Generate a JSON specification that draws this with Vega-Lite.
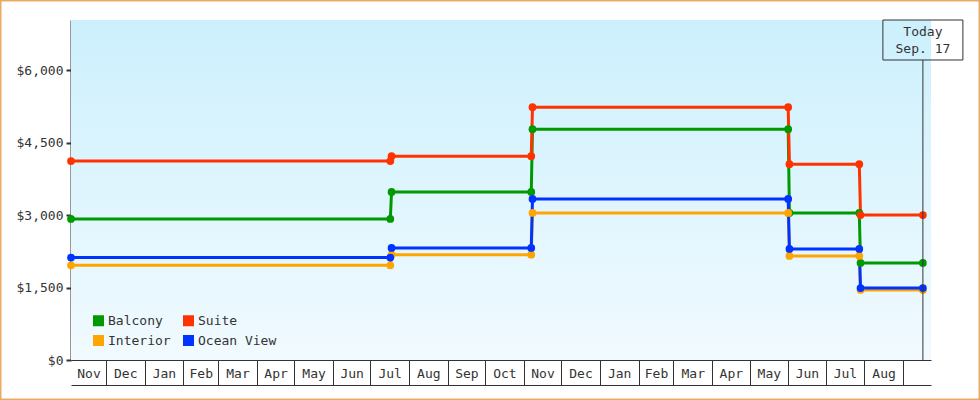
{
  "$schema": "https://vega.github.io/schema/vega-lite/v6.json",
  "width": 980,
  "height": 400,
  "autosize": {"type": "none"},
  "padding": 0,
  "background": "#ffffff",
  "config": {
    "view": {"stroke": "#e9aa66", "strokeWidth": 3},
    "axis": {"labelFont": "DejaVu Sans Mono", "labelFontSize": 13, "labelColor": "#333333", "grid": false, "domainColor": "#333333", "tickColor": "#333333", "title": null}
  },
  "datasets": {
    "prices": [
      {"room": "Balcony", "date": "2016-11-03", "price": 2920},
      {"room": "Balcony", "date": "2017-07-17", "price": 2920},
      {"room": "Balcony", "date": "2017-07-18", "price": 3480},
      {"room": "Balcony", "date": "2017-11-07", "price": 3480},
      {"room": "Balcony", "date": "2017-11-08", "price": 4780},
      {"room": "Balcony", "date": "2018-06-01", "price": 4780},
      {"room": "Balcony", "date": "2018-06-02", "price": 3045},
      {"room": "Balcony", "date": "2018-07-28", "price": 3045},
      {"room": "Balcony", "date": "2018-07-29", "price": 2010},
      {"room": "Balcony", "date": "2018-09-17", "price": 2010},
      {"room": "Interior", "date": "2016-11-03", "price": 1960},
      {"room": "Interior", "date": "2017-07-17", "price": 1960},
      {"room": "Interior", "date": "2017-07-18", "price": 2180},
      {"room": "Interior", "date": "2017-11-07", "price": 2180},
      {"room": "Interior", "date": "2017-11-08", "price": 3045},
      {"room": "Interior", "date": "2018-06-01", "price": 3045},
      {"room": "Interior", "date": "2018-06-02", "price": 2155},
      {"room": "Interior", "date": "2018-07-28", "price": 2155},
      {"room": "Interior", "date": "2018-07-29", "price": 1450},
      {"room": "Interior", "date": "2018-09-17", "price": 1450},
      {"room": "Ocean View", "date": "2016-11-03", "price": 2120},
      {"room": "Ocean View", "date": "2017-07-17", "price": 2120},
      {"room": "Ocean View", "date": "2017-07-18", "price": 2320},
      {"room": "Ocean View", "date": "2017-11-07", "price": 2320},
      {"room": "Ocean View", "date": "2017-11-08", "price": 3335},
      {"room": "Ocean View", "date": "2018-06-01", "price": 3335},
      {"room": "Ocean View", "date": "2018-06-02", "price": 2300},
      {"room": "Ocean View", "date": "2018-07-28", "price": 2300},
      {"room": "Ocean View", "date": "2018-07-29", "price": 1490},
      {"room": "Ocean View", "date": "2018-09-17", "price": 1490},
      {"room": "Suite", "date": "2016-11-03", "price": 4120},
      {"room": "Suite", "date": "2017-07-17", "price": 4120},
      {"room": "Suite", "date": "2017-07-18", "price": 4220},
      {"room": "Suite", "date": "2017-11-07", "price": 4220},
      {"room": "Suite", "date": "2017-11-08", "price": 5235},
      {"room": "Suite", "date": "2018-06-01", "price": 5235},
      {"room": "Suite", "date": "2018-06-02", "price": 4055},
      {"room": "Suite", "date": "2018-07-28", "price": 4055},
      {"room": "Suite", "date": "2018-07-29", "price": 3000},
      {"room": "Suite", "date": "2018-09-17", "price": 3000}
    ],
    "today": [{"date": "2018-09-17", "label": "Today\nSep. 17"}]
  },
  "resolve": {"axis": {"x": "independent", "y": "independent"}, "legend": {"color": "independent"}},
  "layer": [
    {
      "data": {"values": [{}]},
      "mark": {
        "type": "rect",
        "fill": {"gradient": "linear", "x1": 0, "y1": 0, "x2": 0, "y2": 1,
          "stops": [{"offset": 0, "color": "#ccf0fd"}, {"offset": 1, "color": "#f1faff"}]}
      },
      "encoding": {
        "x": {
          "datum": {"year": 2016, "month": 11, "date": 3, "utc": true},
          "type": "temporal",
          "scale": {"type": "utc", "padding": 0, "domain": [{"year": 2016, "month": 11, "date": 3, "utc": true}, {"year": 2018, "month": 9, "date": 23, "hours": 12, "utc": true}], "range": [71, 931]},
          "axis": {
            "orient": "bottom", "offset": -40, "labels": false, "tickSize": 25, "tickWidth": 1, "domainWidth": 1,
            "values": [
              {"year": 2016, "month": 12, "date": 1, "utc": true},
              {"year": 2017, "month": 1, "date": 1, "utc": true},
              {"year": 2017, "month": 2, "date": 1, "utc": true},
              {"year": 2017, "month": 3, "date": 1, "utc": true},
              {"year": 2017, "month": 4, "date": 1, "utc": true},
              {"year": 2017, "month": 5, "date": 1, "utc": true},
              {"year": 2017, "month": 6, "date": 1, "utc": true},
              {"year": 2017, "month": 7, "date": 1, "utc": true},
              {"year": 2017, "month": 8, "date": 1, "utc": true},
              {"year": 2017, "month": 9, "date": 1, "utc": true},
              {"year": 2017, "month": 10, "date": 1, "utc": true},
              {"year": 2017, "month": 11, "date": 1, "utc": true},
              {"year": 2017, "month": 12, "date": 1, "utc": true},
              {"year": 2018, "month": 1, "date": 1, "utc": true},
              {"year": 2018, "month": 2, "date": 1, "utc": true},
              {"year": 2018, "month": 3, "date": 1, "utc": true},
              {"year": 2018, "month": 4, "date": 1, "utc": true},
              {"year": 2018, "month": 5, "date": 1, "utc": true},
              {"year": 2018, "month": 6, "date": 1, "utc": true},
              {"year": 2018, "month": 7, "date": 1, "utc": true},
              {"year": 2018, "month": 8, "date": 1, "utc": true},
              {"year": 2018, "month": 9, "date": 1, "utc": true}
            ]
          }
        },
        "x2": {"datum": {"year": 2018, "month": 9, "date": 23, "hours": 12, "utc": true}},
        "y": {
          "datum": 0,
          "type": "quantitative",
          "scale": {"domain": [0, 7040], "range": [360, 20], "nice": false, "padding": 0},
          "axis": {
            "orient": "left", "offset": -71, "values": [0, 1500, 3000, 4500, 6000], "format": "$,.0f",
            "tickSize": 5, "tickWidth": 2, "domainWidth": 2, "labelPadding": 3
          }
        },
        "y2": {"datum": 7040}
      }
    },
    {
      "data": {"name": "prices"},
      "mark": {"type": "line", "strokeWidth": 3},
      "encoding": {
        "x": {"field": "date", "type": "temporal", "axis": null},
        "y": {"field": "price", "type": "quantitative", "axis": null},
        "color": {
          "field": "room", "type": "nominal",
          "scale": {"domain": ["Balcony", "Suite", "Interior", "Ocean View"], "range": ["#009900", "#ff3300", "#ffa500", "#0033ff"]},
          "legend": null
        }
      }
    },
    {
      "data": {"name": "prices"},
      "mark": {"type": "circle", "size": 60, "opacity": 1},
      "encoding": {
        "x": {"field": "date", "type": "temporal", "axis": null},
        "y": {"field": "price", "type": "quantitative", "axis": null},
        "color": {
          "field": "room", "type": "nominal",
          "legend": {
            "orient": "none", "legendX": 92, "legendY": 314, "columns": 2, "direction": "horizontal", "title": null,
            "symbolType": "square", "symbolSize": 121, "symbolStrokeWidth": 0, "symbolOpacity": 1,
            "labelFont": "DejaVu Sans Mono", "labelFontSize": 13, "labelColor": "#333333",
            "labelOffset": 3, "rowPadding": 6, "columnPadding": 11, "padding": 0
          }
        }
      }
    },
    {
      "data": {"name": "today"},
      "mark": {"type": "rule", "color": "#333333", "strokeWidth": 1},
      "encoding": {
        "x": {
          "field": "date", "type": "temporal",
          "axis": {
            "orient": "bottom", "offset": -15, "tickSize": 0, "labelPadding": -12, "labelBaseline": "middle",
            "labelAlign": "center", "labelAngle": 0, "labelOverlap": false, "labelFlush": false, "domainWidth": 1,
            "labelExpr": "utcFormat(datum.value, '%b')",
            "values": [
              {"year": 2016, "month": 11, "date": 17, "utc": true},
              {"year": 2016, "month": 12, "date": 16, "hours": 12, "utc": true},
              {"year": 2017, "month": 1, "date": 16, "hours": 12, "utc": true},
              {"year": 2017, "month": 2, "date": 15, "utc": true},
              {"year": 2017, "month": 3, "date": 16, "hours": 12, "utc": true},
              {"year": 2017, "month": 4, "date": 16, "utc": true},
              {"year": 2017, "month": 5, "date": 16, "hours": 12, "utc": true},
              {"year": 2017, "month": 6, "date": 16, "utc": true},
              {"year": 2017, "month": 7, "date": 16, "hours": 12, "utc": true},
              {"year": 2017, "month": 8, "date": 16, "hours": 12, "utc": true},
              {"year": 2017, "month": 9, "date": 16, "utc": true},
              {"year": 2017, "month": 10, "date": 16, "hours": 12, "utc": true},
              {"year": 2017, "month": 11, "date": 16, "utc": true},
              {"year": 2017, "month": 12, "date": 16, "hours": 12, "utc": true},
              {"year": 2018, "month": 1, "date": 16, "hours": 12, "utc": true},
              {"year": 2018, "month": 2, "date": 15, "utc": true},
              {"year": 2018, "month": 3, "date": 16, "hours": 12, "utc": true},
              {"year": 2018, "month": 4, "date": 16, "utc": true},
              {"year": 2018, "month": 5, "date": 16, "hours": 12, "utc": true},
              {"year": 2018, "month": 6, "date": 16, "utc": true},
              {"year": 2018, "month": 7, "date": 16, "hours": 12, "utc": true},
              {"year": 2018, "month": 8, "date": 16, "hours": 12, "utc": true}
            ]
          }
        },
        "y": {"datum": 0, "type": "quantitative", "axis": null},
        "y2": {"datum": 6212}
      }
    },
    {
      "data": {"name": "today"},
      "mark": {"type": "bar", "width": 80, "filled": false, "color": "#333333", "strokeWidth": 1},
      "encoding": {
        "x": {"field": "date", "type": "temporal", "axis": null},
        "y": {"datum": 6212, "type": "quantitative", "axis": null},
        "y2": {"datum": 7040}
      }
    },
    {
      "data": {"name": "today"},
      "mark": {"type": "text", "align": "center", "baseline": "middle", "lineBreak": "\n", "font": "DejaVu Sans Mono", "fontSize": 13, "lineHeight": 17, "color": "#333333"},
      "encoding": {
        "x": {"field": "date", "type": "temporal", "axis": null},
        "y": {"datum": 6792, "type": "quantitative", "axis": null},
        "text": {"field": "label"}
      }
    }
  ]
}
